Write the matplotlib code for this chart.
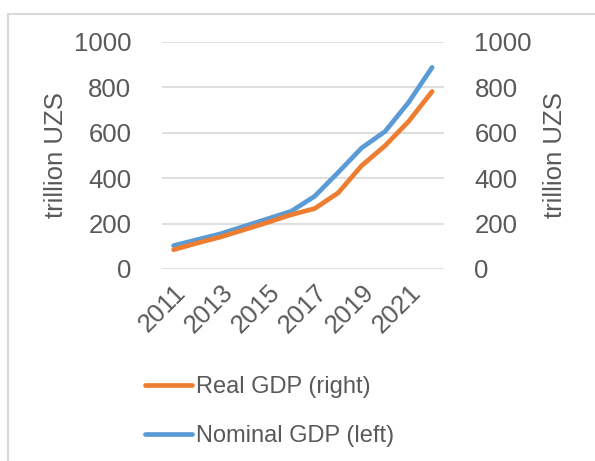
import matplotlib.pyplot as plt
from matplotlib.patches import Rectangle

plt.rcParams['font.family'] = ['Liberation Sans', 'DejaVu Sans']

# GDP of Uzbekistan, trillion UZS
years = [2011, 2012, 2013, 2014, 2015, 2016, 2017, 2018, 2019, 2020, 2021, 2022]
nominal_gdp = [103, 129, 155, 188, 221, 254, 320, 425, 533, 606, 734, 888]
real_gdp = [85, 114, 141, 173, 205, 239, 266, 335, 455, 543, 650, 782]
tick_years = [2011, 2013, 2015, 2017, 2019, 2021]

text_color = '#595959'
grid_color = '#d9d9d9'
fs = 18.5

fig = plt.figure(figsize=(5.95, 4.61), dpi=100)
ax = fig.add_axes([0.272, 0.4165, 0.474, 0.4925])
ax2 = ax.twinx()

l_nom, = ax.plot(years, nominal_gdp, color='#5B9BD5', lw=3.4,
                 solid_capstyle='round', label='Nominal GDP (left)', zorder=3)
l_real, = ax2.plot(years, real_gdp, color='#ED7D31', lw=3.4,
                   solid_capstyle='round', label='Real GDP (right)', zorder=3)

for a in (ax, ax2):
    a.set_ylim(0, 1000)
    a.set_yticks(range(0, 1001, 200))
    a.set_xlim(2010.5, 2022.5)
    for s in a.spines.values():
        s.set_visible(False)
    a.tick_params(length=0, labelsize=fs, colors=text_color)
    a.set_ylabel('trillion UZS', fontsize=fs, color=text_color)

ax.yaxis.set_tick_params(pad=22)
ax2.yaxis.set_tick_params(pad=22)
ax.yaxis.labelpad = 4
ax2.yaxis.labelpad = 8

ax.set_xticks(tick_years)
ax.set_xticklabels([str(y) for y in tick_years], rotation=45, ha='right',
                   rotation_mode='anchor')
ax.tick_params(axis='x', pad=8)
ax.grid(axis='y', color=grid_color, lw=1.2)
ax.set_axisbelow(True)
ax2.set_zorder(ax.get_zorder() + 1)
ax2.patch.set_visible(False)

fig.legend([l_real, l_nom], ['Real GDP (right)', 'Nominal GDP (left)'],
           loc='center left', bbox_to_anchor=(0.208, 0.107), frameon=False,
           fontsize=17, labelcolor=text_color, handlelength=2.0,
           handletextpad=0.15, labelspacing=1.15)

# chart border, clipped at the right and bottom edges
fig.patches.append(Rectangle((7.5 / 595, -0.1), 1.2, 1 - 13.5 / 461 + 0.1,
                             transform=fig.transFigure, fill=False,
                             edgecolor=grid_color, lw=1.5))

fig.savefig('out.png', dpi=100)
